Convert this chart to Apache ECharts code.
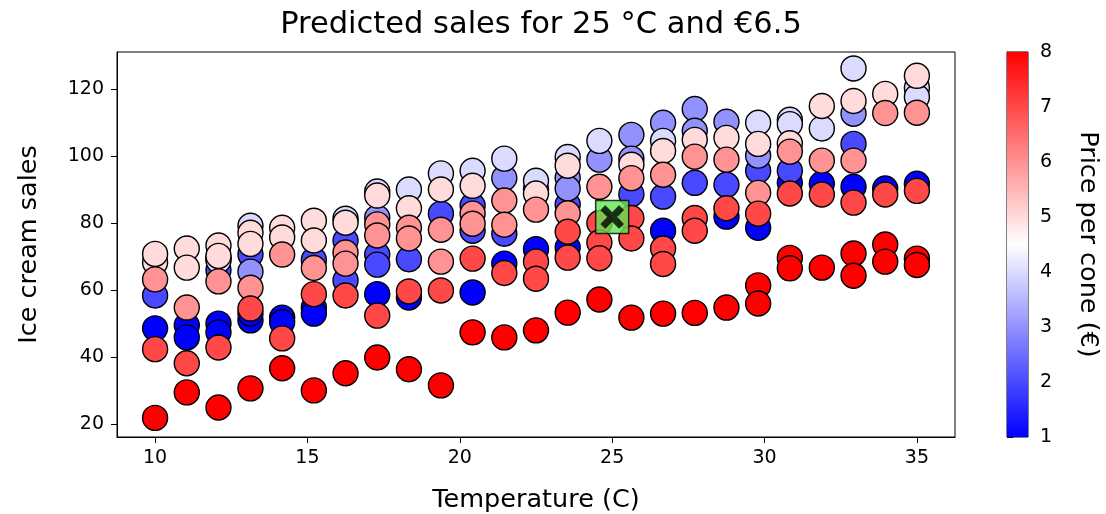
<!DOCTYPE html>
<html>
<head>
<meta charset="utf-8">
<script src="https://cdn.jsdelivr.net/npm/echarts@6/dist/echarts.min.js"></script>
<style>html,body{margin:0;padding:0;background:#fff;}#c{width:1106px;height:514px;}</style>
</head>
<body>
<div id="c"></div>
<script>
// Temperature columns (°C)
const temps = [10.00, 11.04, 12.08, 13.13, 14.17, 15.21, 16.25, 17.29, 18.33, 19.38, 20.42, 21.46, 22.50,
  23.54, 24.58, 25.63, 26.67, 27.71, 28.75, 29.79, 30.83, 31.88, 32.92, 33.96, 35.00];
// Each point: column index, price per cone, ice cream sales
const pointCol = [
  0,0,0,0,0,0,0,
  1,1,1,1,1,1,1,
  2,2,2,2,2,2,2,2,2,2,
  3,3,3,3,3,3,3,3,3,3,
  4,4,4,4,4,4,4,
  5,5,5,5,5,5,5,5,
  6,6,6,6,6,6,6,6,
  7,7,7,7,7,7,7,7,7,7,
  8,8,8,8,8,8,8,8,
  9,9,9,9,9,9,9,
  10,10,10,10,10,10,10,10,10,
  11,11,11,11,11,11,11,11,
  12,12,12,12,12,12,12,12,
  13,13,13,13,13,13,13,13,13,13,
  14,14,14,14,14,14,14,
  15,15,15,15,15,15,15,15,
  16,16,16,16,16,16,16,16,16,
  17,17,17,17,17,17,17,17,
  18,18,18,18,18,18,18,
  19,19,19,19,19,19,19,19,19,
  20,20,20,20,20,20,20,20,20,
  21,21,21,21,21,21,
  22,22,22,22,22,22,22,22,22,
  23,23,23,23,23,23,
  24,24,24,24,24,24,24,24
];
const pointPrice = [
  1,2,5,5,6,7,8,
  1,1,5,5,6,7,8,
  1,1,2,2,4,5,5,6,7,8,
  1,1,2,3,4,5,5,6,7,8,
  1,1,5,5,6,7,8,
  1,1,2,5,5,6,7,8,
  2,2,4,5,6,6,7,8,
  1,2,2,3,4,5,6,6,7,8,
  1,2,4,5,6,6,7,8,
  2,4,5,6,6,7,8,
  1,2,2,4,5,6,6,7,8,
  1,2,3,4,6,6,7,8,
  1,2,4,5,6,7,7,8,
  1,2,3,3,4,5,6,7,7,8,
  3,4,6,7,7,7,8,
  2,3,3,5,6,7,7,8,
  1,2,3,4,5,6,7,7,8,
  2,3,3,5,6,7,7,8,
  1,2,3,5,6,7,8,
  1,2,3,4,5,6,7,8,8,
  1,2,4,4,5,6,7,8,8,
  1,4,5,6,7,8,
  1,2,3,4,5,6,7,8,8,
  1,5,6,7,8,8,
  1,4,4,5,6,7,8,8
];
const pointSales = [
  48.6,58.4,68.2,70.8,63.2,42.4,21.9,
  49.5,45.9,72.4,66.7,54.8,38.2,29.5,
  50.0,47.4,69.5,66.0,68.8,73.3,70.2,62.6,42.9,25.0,
  51.0,53.0,70.6,65.5,79.2,77.1,73.8,60.7,54.5,30.7,
  51.8,50.4,78.6,75.7,70.6,45.6,36.7,
  54.8,53.0,69.0,80.7,74.8,66.6,58.8,30.1,
  74.8,62.9,81.3,80.1,71.2,67.9,58.4,35.2,
  58.8,70.6,67.6,81.6,89.4,88.2,79.6,76.3,52.4,39.9,
  57.8,69.2,90.0,84.4,78.6,75.4,59.6,36.4,
  82.8,94.8,90.0,78.0,68.5,59.9,31.6,
  59.3,85.2,77.7,95.6,91.1,82.8,79.8,69.4,47.4,
  67.9,76.8,93.4,99.2,86.7,79.5,65.1,45.9,
  72.2,90.0,92.6,88.8,84.0,68.5,63.4,48.0,
  72.7,85.5,93.5,90.3,99.7,97.1,82.9,77.4,69.7,53.3,
  98.9,104.5,90.8,80.0,74.2,69.5,57.2,
  88.6,106.3,99.2,97.4,93.4,81.5,75.4,51.8,
  77.7,87.9,109.9,104.5,101.5,94.4,72.4,67.8,53.0,
  92.0,114.0,107.5,104.8,99.8,81.5,77.7,53.2,
  81.9,91.4,110.2,105.4,98.9,84.4,54.8,
  78.6,95.6,100.1,109.9,103.6,89.0,82.8,61.4,56.0,
  92.0,95.6,110.8,109.5,103.8,101.3,88.8,69.6,66.5,
  91.7,108.2,114.9,98.6,88.5,66.7,
  90.8,103.6,112.6,126.1,116.4,98.6,86.1,70.9,64.3,
  90.3,118.5,112.8,88.5,73.6,68.5,
  91.7,120.3,117.6,123.9,112.9,89.6,69.4,67.5
];
// Predicted point: temperature, sales
const predicted = [25, 81.8];
// Tick labels
const xTicks = [10, 15, 20, 25, 30, 35];
const yTicks = [20, 40, 60, 80, 100, 120];
const priceTicks = [1, 2, 3, 4, 5, 6, 7, 8];

const pts = pointCol.map((c, i) => [temps[c], pointSales[i], pointPrice[i]]);
pts.sort((a, b) => a[2] - b[2]);

const FONT = 'DejaVu Sans';
const TICK = 19, NAME = 25.5;
const chart = echarts.init(document.getElementById('c'), null, {renderer: 'canvas'});
chart.setOption({
  backgroundColor: '#ffffff',
  animation: false,
  textStyle: {fontFamily: FONT},
  title: {
    text: 'Predicted sales for 25 °C and €6.5',
    left: 536, top: 5, textAlign: 'center',
    textStyle: {fontFamily: FONT, fontSize: 30.5, fontWeight: 'normal', color: '#000'}
  },
  grid: [
    {left: 117, right: 151, top: 52, bottom: 77, show: true, borderColor: '#000', borderWidth: 1,
      backgroundColor: 'transparent', containLabel: false, outerBoundsMode: 'none'},
    {left: 1007, width: 21, top: 52, bottom: 77, show: true, borderColor: '#000', borderWidth: 1,
      backgroundColor: 'transparent', containLabel: false, outerBoundsMode: 'none'}
  ],
  xAxis: [
    {type: 'value', gridIndex: 0, min: 8.75, max: 36.25,
      name: 'Temperature (C)', nameLocation: 'middle', nameGap: 50,
      nameTextStyle: {fontFamily: FONT, fontSize: NAME, color: '#000'},
      axisLine: {show: true, lineStyle: {color: '#000', width: 1}},
      axisTick: {show: true, inside: false, length: 6, customValues: xTicks, lineStyle: {color: '#000'}},
      axisLabel: {show: true, customValues: xTicks, fontFamily: FONT, fontSize: TICK, color: '#000', margin: 12},
      splitLine: {show: false}},
    {type: 'value', gridIndex: 1, min: 0, max: 1, show: false}
  ],
  yAxis: [
    {type: 'value', gridIndex: 0, min: 16.2, max: 131,
      name: 'Ice cream sales', nameLocation: 'middle', nameGap: 75, nameRotate: 90,
      nameTextStyle: {fontFamily: FONT, fontSize: NAME, color: '#000'},
      axisLine: {show: true, lineStyle: {color: '#000', width: 1}},
      axisTick: {show: true, inside: false, length: 6, customValues: yTicks, lineStyle: {color: '#000'}},
      axisLabel: {show: true, customValues: yTicks, fontFamily: FONT, fontSize: TICK, color: '#000', margin: 13},
      splitLine: {show: false}},
    {type: 'value', gridIndex: 1, min: 1, max: 8, interval: 1, position: 'right',
      name: 'Price per cone (€)', nameLocation: 'middle', nameGap: 47, nameRotate: -90,
      nameTextStyle: {fontFamily: FONT, fontSize: NAME, color: '#000'},
      axisLine: {show: true, lineStyle: {color: '#000', width: 1}},
      axisTick: {show: true, inside: false, length: 6, customValues: priceTicks, lineStyle: {color: '#000'}},
      axisLabel: {show: true, customValues: priceTicks, fontFamily: FONT, fontSize: TICK, color: '#000', margin: 12},
      splitLine: {show: false}}
  ],
  visualMap: {
    show: false, type: 'continuous', seriesIndex: 0, dimension: 2, min: 1, max: 8,
    inRange: {color: ['#0000ff', '#ffffff', '#ff0000']}
  },
  series: [
    {type: 'scatter', xAxisIndex: 0, yAxisIndex: 0, data: pts, symbol: 'circle', symbolSize: 25,
      itemStyle: {borderColor: '#000', borderWidth: 1.4, opacity: 1}, z: 2},
    {type: 'scatter', xAxisIndex: 0, yAxisIndex: 0, data: [predicted], symbol: 'rect', symbolSize: 33,
      itemStyle: {color: '#62e650', borderColor: '#000', borderWidth: 1.5}, z: 5},
    {type: 'scatter', xAxisIndex: 0, yAxisIndex: 0, data: [predicted],
      symbol: 'path://M-0.5,-0.3 L-0.3,-0.5 L0,-0.2 L0.3,-0.5 L0.5,-0.3 L0.2,0 L0.5,0.3 L0.3,0.5 L0,0.2 L-0.3,0.5 L-0.5,0.3 L-0.2,0 Z',
      symbolSize: 23, itemStyle: {color: '#000', borderColor: '#000', borderWidth: 0.5}, z: 6},
    {type: 'custom', xAxisIndex: 1, yAxisIndex: 1, data: [[0, 1, 8]], z: 1,
      renderItem: function (params, api) {
        const p1 = api.coord([0, api.value(2)]);
        const p2 = api.coord([1, api.value(1)]);
        return {type: 'rect', shape: {x: p1[0], y: p1[1], width: p2[0] - p1[0], height: p2[1] - p1[1]},
          style: {fill: new echarts.graphic.LinearGradient(0, 0, 0, 1, [
            {offset: 0, color: '#ff0000'}, {offset: 0.5, color: '#ffffff'}, {offset: 1, color: '#0000ff'}])}};
      }}
  ]
});
</script>
</body>
</html>
